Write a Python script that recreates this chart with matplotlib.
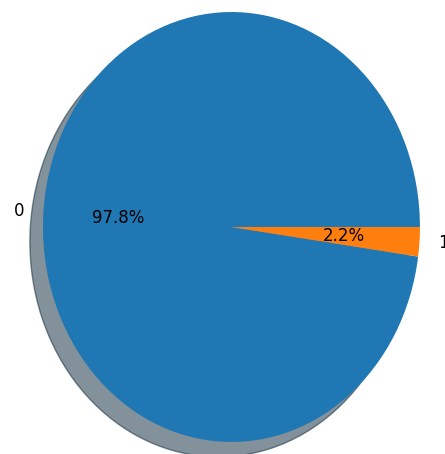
import matplotlib
matplotlib.use("Agg")
import matplotlib.pyplot as plt

# class counts as shares
labels = ["0", "1"]
shares = [97.8, 2.2]
colors = ["#1f77b4", "#ff7f0e"]

fig = plt.figure(figsize=(4.45, 4.54), dpi=100)
ax = fig.add_axes([0, 0, 1, 1])

ax.pie(shares, labels=labels, colors=colors, autopct="%1.1f%%",
       shadow={"ox": -0.05, "oy": -0.05, "shade": 0.7},
       textprops={"fontsize": 12})

# stretched pie like the original
ax.set_aspect("auto")
ax.set_xlim(-1.228, 1.133)
ax.set_ylim(-1.056, 1.056)
ax.axis("off")

fig.savefig("out.png", dpi=100)
